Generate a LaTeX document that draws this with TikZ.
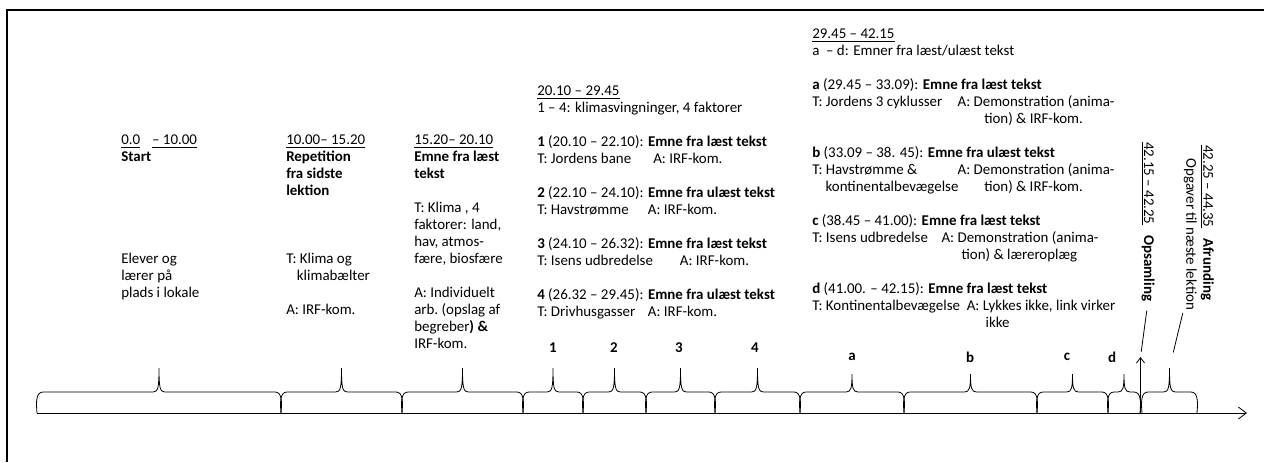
\documentclass[tikz,border=0pt]{standalone}
\usepackage{fontspec}
\setmainfont{Carlito}
\usetikzlibrary{arrows.meta}

% ligne "T: ... A: ..." avec colonne A fixe
\newcommand{\TA}[3]{\makebox[#1][l]{T: #2}A: #3}

\tikzset{
  tekst/.style={anchor=north west, inner sep=0pt, align=left,
                font=\fontsize{11.2}{12.75}\selectfont},
  markor/.style={inner sep=0pt, font=\fontsize{11.2}{12.75}\selectfont\bfseries},
  tynd/.style={line width=0.6pt},
  pil/.style={-{Straight Barb[length=6pt,width=9pt]}},
  lillepil/.style={-{Straight Barb[length=4pt,width=6pt]}}
}

\begin{document}
\begin{tikzpicture}[x=0.75pt,y=-0.75pt] % 1 px = 0.75 pt, y vers le bas

% --------- PARAMÈTRES ----------
\def\yaxe{413}    % ligne de base (axe du temps)
\def\ybras{392}   % hauteur des bras d'accolade
\def\haut{368}    % pointe des accolades 1..4
\def\bas{374}     % pointe des accolades a..d
% --------------------------------

\useasboundingbox (0,0) rectangle (1264,462);

% Cadre (haut + gauche)
\draw[line width=2pt] (7,462) -- (7,10) -- (1264,10);

% Axe horizontal
\draw[tynd,pil] (37,\yaxe) -- (1247,\yaxe);

% Accolades : début / fin / pointe
\foreach \a/\b/\t [count=\i] in {37/281/\haut, 281/402/\haut, 402/523/\haut,
    523/583/\haut, 583/646/\haut, 646/715/\haut, 715/800/\haut,
    800/904/\bas, 904/1037/\bas, 1037/1108/\bas, 1108/1140/\bas,
    1142/1197/\haut}{
  \pgfmathsetmacro\m{(\a+\b)/2}
  \coordinate (tip\i) at (\m,\t);
  \draw[tynd] (\a,\yaxe) .. controls (\a-1,402) and (\a-1,\ybras) .. (\a+6,\ybras)
    -- (\m-6,\ybras) .. controls (\m-1,\ybras) and (\m,388) .. (tip\i)
    .. controls (\m,388) and (\m+1,\ybras) .. (\m+6,\ybras)
    -- (\b-6,\ybras) .. controls (\b+1,\ybras) and (\b+1,402) .. (\b,\yaxe);
}

% Repères 1..4 et a..d
\foreach \l/\x/\y in {1/553/348, 2/614/348, 3/679/348, 4/755/348,
    a/852/357, b/970/357, c/1067/357, d/1112/357}{
  \node[markor] (lab\l) at (\x,\y) {\l};
}

% Blocs de texte
\node[tekst] (start) at (121,135) {\underline{0.0}\hspace{9pt}\underline{– 10.00}\\
  \textbf{Start}\\[5\baselineskip]
  Elever og\\ lærer på\\ plads i lokale};

\node[tekst] (repetition) at (286,135) {\underline{10.00– 15.20}\\
  \textbf{Repetition}\\ \textbf{fra sidste}\\ \textbf{lektion}\\[3\baselineskip]
  T: Klima og\\ \hspace*{8pt}klimabælter\\[\baselineskip]
  A: IRF-kom.};

\node[tekst] (emne) at (414,135) {\underline{15.20– 20.10}\\
  \textbf{Emne fra læst}\\ \textbf{tekst}\\[\baselineskip]
  T: Klima , 4\\ faktorer: land,\\ hav, atmos-\\ fære, biosfære\\[\baselineskip]
  A: Individuelt\\ arb.\ (opslag af\\ begreber\textbf{) \&}\\ IRF-kom.};

\node[tekst] (svingninger) at (537,86) {\underline{20.10 – 29.45}\\
  1 – 4: klimasvingninger, 4 faktorer\\[\baselineskip]
  \textbf{1} (20.10 – 22.10): \textbf{Emne fra læst tekst}\\
  \TA{87pt}{Jordens bane}{IRF-kom.}\\[\baselineskip]
  \textbf{2} (22.10 – 24.10): \textbf{Emne fra ulæst tekst}\\
  \TA{83pt}{Havstrømme}{IRF-kom.}\\[\baselineskip]
  \textbf{3} (24.10 – 26.32): \textbf{Emne fra læst tekst}\\
  \TA{107pt}{Isens udbredelse}{IRF-kom.}\\[\baselineskip]
  \textbf{4} (26.32 – 29.45): \textbf{Emne fra ulæst tekst}\\
  \TA{83pt}{Drivhusgasser}{IRF-kom.}};

\node[tekst] (emner) at (812,29) {\underline{29.45 – 42.15}\\
  a \ – d: Emner fra læst/ulæst tekst\\[\baselineskip]
  \textbf{a} (29.45 – 33.09): \textbf{Emne fra læst tekst}\\
  \TA{109pt}{Jordens 3 cyklusser}{Demonstration (anima-}\\
  \hspace*{129pt}tion) \& IRF-kom.\\[\baselineskip]
  \textbf{b} (33.09 – 38. 45): \textbf{Emne fra ulæst tekst}\\
  \TA{109pt}{Havstrømme \&}{Demonstration (anima-}\\
  \hspace*{10pt}\makebox[119pt][l]{kontinentalbevægelse}tion) \& IRF-kom.\\[\baselineskip]
  \textbf{c} (38.45 – 41.00): \textbf{Emne fra læst tekst}\\
  \TA{97pt}{Isens udbredelse}{Demonstration (anima-}\\
  \hspace*{112pt}tion) \& læreroplæg\\[\baselineskip]
  \textbf{d} (41.00. – 42.15): \textbf{Emne fra læst tekst}\\
  T: Kontinentalbevægelse \ A: Lykkes ikke, link virker\\
  \hspace*{130pt}ikke};

% Textes verticaux
\node[tekst, anchor=west, rotate=-90] (ops) at (1148,142)
  {\underline{42.15 – 42.25}\hspace{8pt}\textbf{Opsamling}};
\node[tekst, anchor=north west, rotate=-90] (afr) at (1214,145)
  {\underline{42.25 – 44.35}\hspace{8pt}\textbf{Afrunding}\\
   \hspace*{10pt}Opgaver til næste lektion};

% Flèche et traits de renvoi
\coordinate (opsFod) at (1140.5,\yaxe);
\coordinate (opsTip) at (1140.5,357);
\draw[tynd,lillepil] (opsFod) -- (opsTip);
\draw[tynd,shorten <=7pt,shorten >=4pt] (ops.east) -- (opsTip);
\draw[tynd,shorten <=2pt,shorten >=12pt] (afr.south east) -- (tip12);

\end{tikzpicture}
\end{document}
